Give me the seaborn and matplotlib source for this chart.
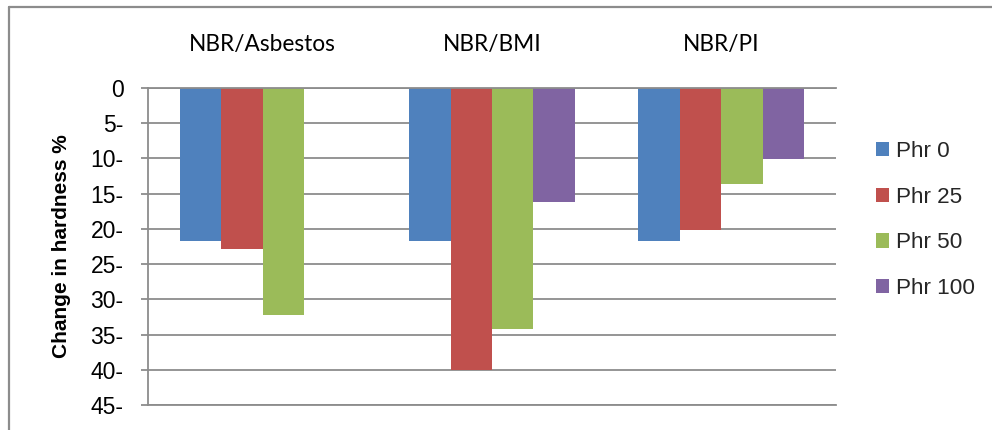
import matplotlib
matplotlib.use("Agg")
import matplotlib.pyplot as plt
from matplotlib.lines import Line2D
from matplotlib.patches import Patch
import pandas as pd
import seaborn as sns

# Composites and filler loadings
composites = ["NBR/Asbestos", "NBR/BMI", "NBR/PI"]
loadings = ["Phr 0", "Phr 25", "Phr 50", "Phr 100"]

# Change in hardness (%) for each loading; asbestos has no 100 phr sample
asbestos_change = [-21.7, -22.9, -32.2]
bmi_change = [-21.7, -40.0, -34.2, -16.2]
pi_change = [-21.7, -20.2, -13.6, -10.1]

y_ticks = [0, -5, -10, -15, -20, -25, -30, -35, -40, -45]
y_tick_labels = ["0", "5-", "10-", "15-", "20-", "25-", "30-", "35-", "40-", "45-"]

palette = ["#4F81BD", "#C0504D", "#9BBB59", "#8064A2"]
grid_gray = "#8C8C8C"

rows = []
for comp, vals in zip(composites, [asbestos_change, bmi_change, pi_change]):
    for load, v in zip(loadings, vals):
        rows.append({"composite": comp, "loading": load, "change": v})
df = pd.DataFrame(rows)

sns.set_theme(style="white")
plt.rcParams["font.family"] = ["Liberation Sans", "DejaVu Sans"]

fig = plt.figure(figsize=(9.92, 4.30), dpi=100)
ax = fig.add_axes([148 / 992, 1 - 405 / 430, (836 - 148) / 992, (405 - 88) / 430])

sns.barplot(
    data=df, x="composite", y="change", hue="loading",
    order=composites, hue_order=loadings, palette=palette,
    width=0.723, dodge=True, errorbar=None, saturation=1,
    linewidth=0, ax=ax, legend=False,
)

ax.set_ylim(-45, 0)
ax.set_xlim(-0.5, 2.5)
ax.set_yticks(y_ticks)
ax.set_yticklabels(y_tick_labels, fontsize=16.5, color="black")
ax.yaxis.grid(True, color=grid_gray, linewidth=1.3)
ax.set_axisbelow(True)

# Category labels sit above the zero line
ax.xaxis.tick_top()
ax.set_xticks(range(len(composites)))
ax.set_xticklabels(composites, fontsize=16.3, family=["Lato", "DejaVu Sans"], color="black")
ax.tick_params(axis="x", length=0, pad=24)
ax.tick_params(axis="y", left=True, length=5, width=1.3, color=grid_gray,
               direction="out", pad=12.5)
ax.set_xlabel("")
ax.set_ylabel("Change in hardness %", fontsize=15, fontweight="bold", color="black",
              labelpad=14)

for side in ["top", "left", "bottom"]:
    ax.spines[side].set_visible(True)
    ax.spines[side].set_color(grid_gray)
    ax.spines[side].set_linewidth(1.3)
ax.spines["right"].set_visible(False)

handles = [Patch(facecolor=c, edgecolor="none") for c in palette]
fig.legend(
    handles, loadings, loc="center left",
    bbox_to_anchor=(876 / 992, 1 - 220 / 430), frameon=False,
    fontsize=16.2, handlelength=0.59, handleheight=0.59, handletextpad=0.32,
    labelspacing=1.1, borderpad=0, borderaxespad=0,
)

# Outer chart frame
frame_kw = dict(color="#8C8C8C", linewidth=1.6, transform=fig.transFigure)
fig.add_artist(Line2D([9.3 / 992, 9.3 / 992], [0, 1 - 6.7 / 430], **frame_kw))
fig.add_artist(Line2D([9.3 / 992, 1], [1 - 6.7 / 430, 1 - 6.7 / 430], **frame_kw))

fig.savefig("out.png", dpi=100)
